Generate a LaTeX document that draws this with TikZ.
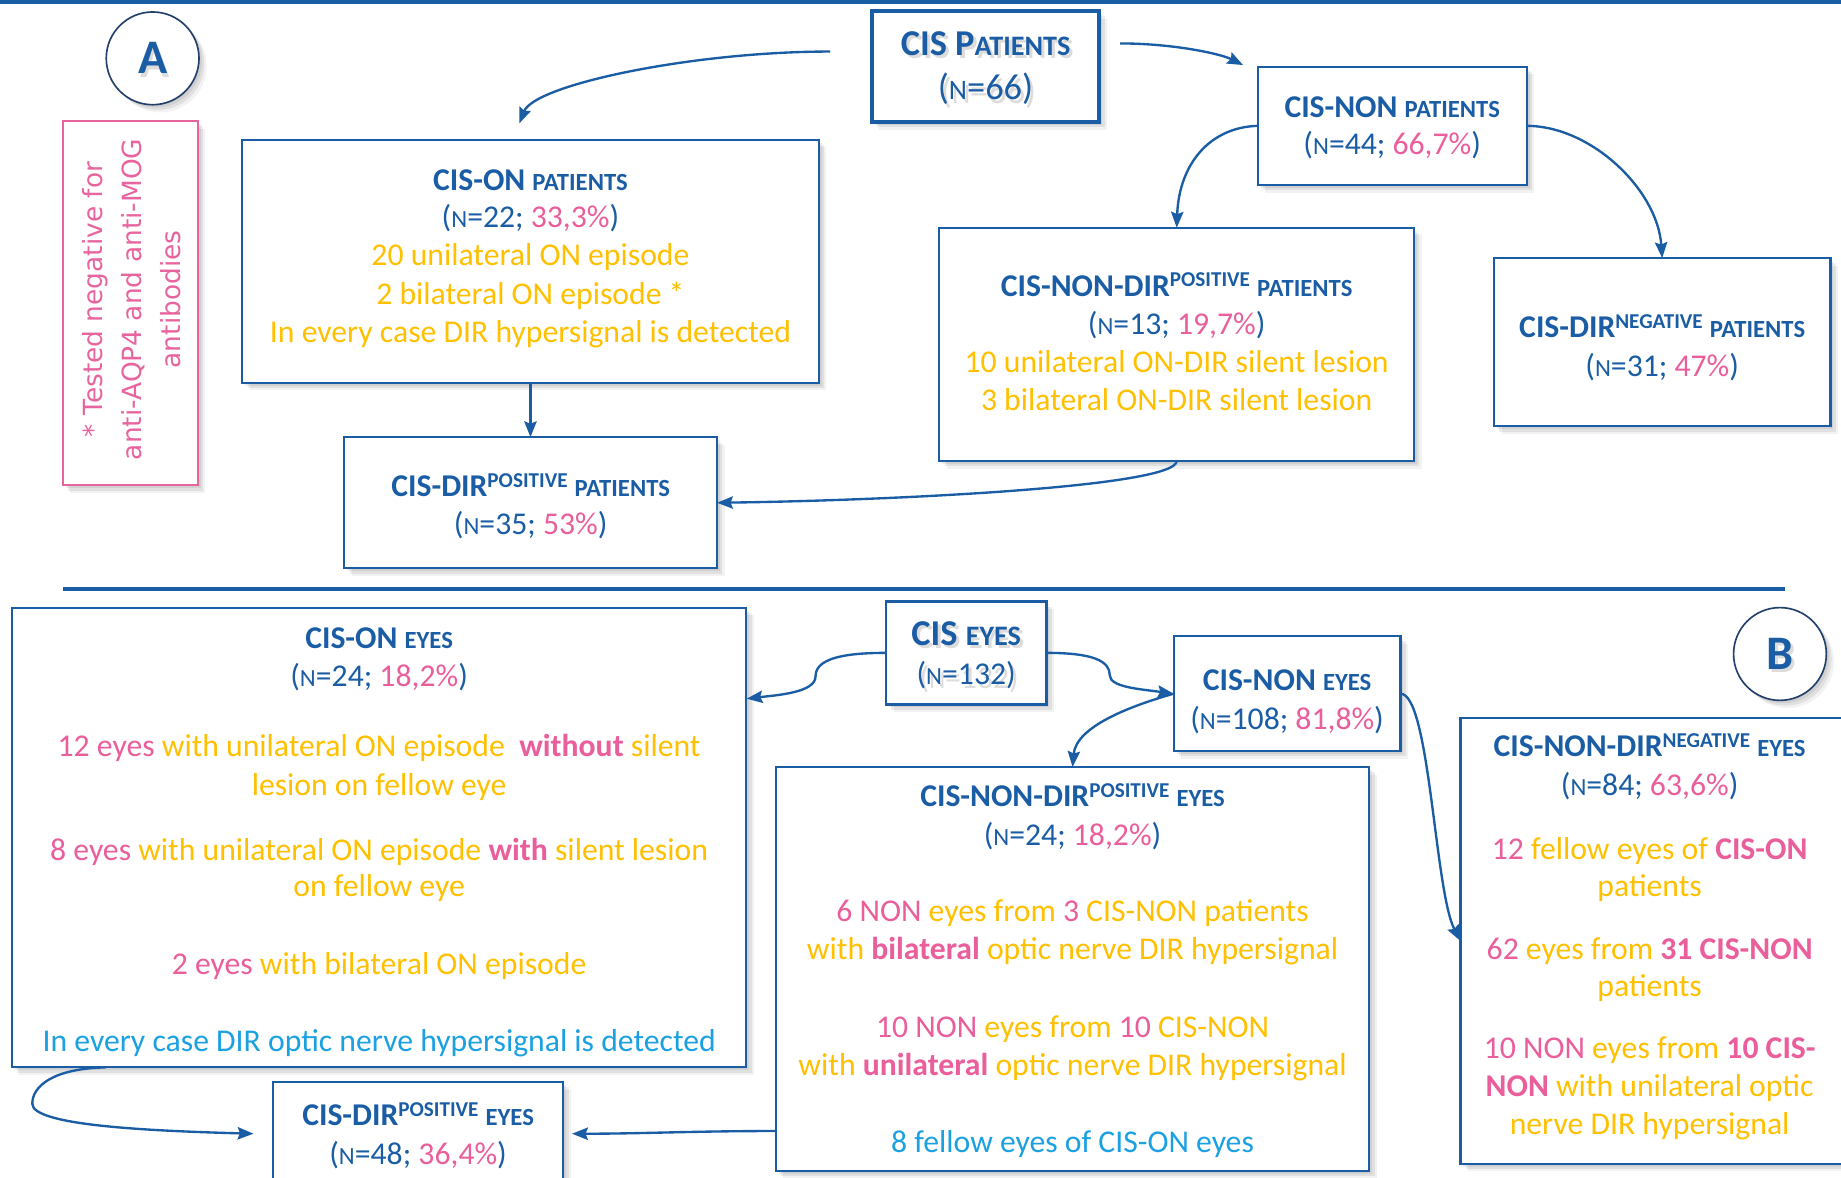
\documentclass[tikz,border=0pt]{standalone}
\usepackage{fontspec}
\setmainfont{Carlito}
\newfontfamily\notefont{DejaVu Sans}
\usetikzlibrary{arrows.meta,shadows,fit,calc}
\definecolor{dblue}{HTML}{1A5DA5}
\definecolor{navyc}{HTML}{23406B}
\definecolor{pinkc}{HTML}{E95E9B}
\definecolor{goldc}{HTML}{FFC000}
\definecolor{lbluec}{HTML}{1BA1E2}
\definecolor{notepink}{HTML}{E8649E}
\newcommand\tpk[1]{\textcolor{pinkc}{#1}}
\newcommand\tgd[1]{\textcolor{goldc}{#1}}
\newcommand\tlb[1]{\textcolor{lbluec}{#1}}
\newcommand\myN{{\fontsize{21}{21}\selectfont N}}
\newcommand\myNb{{\fontsize{24}{24}\selectfont N}}
\newcommand\mttl[2]{\textbf{#1~{\fontsize{21}{21}\selectfont #2}}}
\newcommand\mttlsup[3]{\textbf{#1\raisebox{8pt}{\fontsize{18}{18}\selectfont #2}~{\fontsize{21}{21}\selectfont #3}}}
\tikzset{
  softshadow/.style={
    drop shadow={shadow xshift=2.5pt, shadow yshift=-2.5pt, opacity=0.07, fill=black},
    drop shadow={shadow xshift=4.5pt, shadow yshift=-4.5pt, opacity=0.07, fill=black},
    drop shadow={shadow xshift=6.5pt, shadow yshift=-6.5pt, opacity=0.05, fill=black}},
  box/.style={draw=dblue, line width=1.8pt, fill=white, inner sep=0pt, outer sep=0pt, softshadow},
  t27/.style={anchor=base, inner sep=0pt, text=dblue, font=\fontsize{27}{32.7}\selectfont},
  t31/.style={anchor=base, inner sep=0pt, text=dblue, font=\fontsize{31}{37}\selectfont},
  tshadow/.style={text=black!45, opacity=0.3},
  conn/.style={draw=dblue, line width=2pt, -{Stealth[length=13.5pt,width=10.5pt,inset=2pt]}},
  sepline/.style={draw=dblue, line width=4pt},
  circ/.style={circle, draw=navyc, line width=1.4pt, fill=white, minimum size=79pt, inner sep=0pt, softshadow},
  letter/.style={inner sep=0pt, text=dblue, font=\fontsize{41}{41}\selectfont\bfseries}
}
\begin{document}
\begin{tikzpicture}[x=1pt,y=-1pt]
\useasboundingbox (0,0) rectangle (1568,1003);
\fill[white] (0,0) rectangle (1568,1003);
% separators
\draw[sepline] (0,1.5) -- (1568,1.5);
\draw[sepline] (53.5,501.6) -- (1520.3,501.6);

% ---------- part A ----------
\node[circ] (circA) at (130,49.7) {};
\node[letter, tshadow] (letAs) at (132.5,52.5) {A};
\node[letter] (letA) at (130,49.5) {A};

\node[box, draw=notepink, line width=1.6pt, fit={(53.5,103.2) (168.4,413.4)}] (note) {};
\node[rotate=90, align=center, inner sep=0pt, text=notepink,
  font=\notefont\fontsize{22.5}{33.5}\selectfont] (notetxt) at (112,255)
  {* Tested negative for\\anti-AQP4 and anti-MOG\\antibodies};

\node[box, line width=3.2pt, fit={(742.4,9.4) (936.3,104)}] (cisp) {};
\node[box, fit={(1071.2,56.7) (1300.3,157.7)}] (cisnonp) {};
\node[box, fit={(206.4,118.9) (697.2,326)}] (cisonp) {};
\node[box, fit={(293.3,372.4) (610.7,484)}] (cisdirpp) {};
\node[box, fit={(800.1,193.9) (1204.3,392.6)}] (cisnondirpp) {};
\node[box, fit={(1272.4,219.8) (1559,363.1)}] (cisdirnp) {};

% texts A
\node[t31, tshadow] (cispTs) at (842,50) {\textbf{CIS P{\fontsize{24}{24}\selectfont ATIENTS}}};
\node[t31] (cispT) at (839.4,47) {\textbf{CIS P{\fontsize{24}{24}\selectfont ATIENTS}}};
\node[t31, tshadow] (cispNs) at (842,88) {(\myNb=66)};
\node[t31] (cispN) at (839.4,85) {(\myNb=66)};

\node[t27] (cisnonpT) at (1185.75,100.3) {\mttl{CIS-NON}{PATIENTS}};
\node[t27] (cisnonpN) at (1185.75,131.8) {(\myN=44; \tpk{66,7\%})};

\node[t27] (cisonpT) at (451.8,162.5) {\mttl{CIS-ON}{PATIENTS}};
\node[t27] (cisonpN) at (451.8,194) {(\myN=22; \tpk{33,3\%})};
\node[t27] (cisonp1) at (451.8,226) {\tgd{20 unilateral ON episode}};
\node[t27] (cisonp2) at (451.8,259) {\tgd{2 bilateral ON episode *}};
\node[t27] (cisonp3) at (451.8,291.6) {\tgd{In every case DIR hypersignal is detected}};

\node[t27] (cisdirppT) at (452,423) {\mttlsup{CIS-DIR}{POSITIVE}{PATIENTS}};
\node[t27] (cisdirppN) at (452,455) {(\myN=35; \tpk{53\%})};

\node[t27] (cisnondirppT) at (1002.2,252.2) {\mttlsup{CIS-NON-DIR}{POSITIVE}{PATIENTS}};
\node[t27] (cisnondirppN) at (1002.2,285.2) {(\myN=13; \tpk{19,7\%})};
\node[t27] (cisnondirpp1) at (1002.2,317.3) {\tgd{10 unilateral ON-DIR silent lesion}};
\node[t27] (cisnondirpp2) at (1002.2,349.3) {\tgd{3 bilateral ON-DIR silent lesion}};

\node[t27] (cisdirnpT) at (1415.7,287.5) {\mttlsup{CIS-DIR}{NEGATIVE}{PATIENTS}};
\node[t27] (cisdirnpN) at (1415.7,320.5) {(\myN=31; \tpk{47\%})};

% arrows A
\draw[conn] ($(cisp.west)+(-35.4,-12.8)$) .. controls +(-117,0) and +(13,-33) .. ($(cisonp.north)+(-9.5,-13.8)$);
\draw[conn] ($(cisp.east)+(17.7,-19.7)$) .. controls +(46,0) and +(-18.7,-9.4) .. ($(cisnonp.north west)+(-12.5,-1.3)$);
\draw[conn] (cisnonp.west) .. controls +(-40,1) and +(2,-55) .. (cisnondirpp.north);
\draw[conn] (cisnonp.east) .. controls +(55,0) and +(-4,-58) .. (cisdirnp.north);
\draw[conn] (cisonp.south) -- (cisonp.south |- cisdirpp.north);
\draw[conn] (cisnondirpp.south) .. controls +(0,22) and +(150,-2) .. (cisdirpp.east);

% ---------- part B ----------
\node[circ] (circB) at (1516,557) {};
\node[letter, tshadow] (letBs) at (1518.5,559.8) {B};
\node[letter] (letB) at (1516,556.8) {B};

\node[box, line width=2.4pt, fit={(754.6,512.1) (891.2,600)}] (cise) {};
\node[box, fit={(10,517.5) (635.7,909.1)}] (cisone) {};
\node[box, fit={(999.6,541.8) (1192.8,639.8)}] (cisnone) {};
\node[box, fit={(660.7,653.3) (1166.3,997)}] (cisnondirpe) {};
\node[box, fit={(1243.9,611.7) (1580,991.2)}] (cisnondirne) {};
\node[box, fit={(232.4,921.5) (479.8,1025)}] (cisdirpe) {};

\node[t31, tshadow] (ciseTs) at (825.5,552.4) {\textbf{CIS {\fontsize{24}{24}\selectfont EYES}}};
\node[t31] (ciseT) at (822.9,549.4) {\textbf{CIS {\fontsize{24}{24}\selectfont EYES}}};
\node[t27, tshadow] (ciseNs) at (825.5,586.4) {(\myN=132)};
\node[t27] (ciseN) at (822.9,583.4) {(\myN=132)};

\node[t27] (cisnoneT) at (1096.2,587.7) {\mttl{CIS-NON}{EYES}};
\node[t27] (cisnoneN) at (1096.2,621) {(\myN=108; \tpk{81,8\%})};

\node[t27] (cisoneT) at (322.9,552) {\mttl{CIS-ON}{EYES}};
\node[t27] (cisoneN) at (322.9,584.9) {(\myN=24; \tpk{18,2\%})};
\node[t27] (cisone1) at (322.9,644.6) {\tpk{12 eyes} \tgd{with unilateral ON episode}\ \ \tpk{\textbf{without}} \tgd{silent}};
\node[t27] (cisone2) at (322.9,677.5) {\tgd{lesion on fellow eye}};
\node[t27] (cisone3) at (322.9,732.5) {\tpk{8 eyes} \tgd{with unilateral ON episode} \tpk{\textbf{with}} \tgd{silent lesion}};
\node[t27] (cisone4) at (322.9,763.8) {\tgd{on fellow eye}};
\node[t27] (cisone5) at (322.9,829.9) {\tpk{2 eyes} \tgd{with bilateral ON episode}};
\node[t27] (cisone6) at (322.9,895.4) {\tlb{In every case DIR optic nerve hypersignal is detected}};

\node[t27] (cisnondirpeT) at (913.5,687.1) {\mttlsup{CIS-NON-DIR}{POSITIVE}{EYES}};
\node[t27] (cisnondirpeN) at (913.5,719.7) {(\myN=24; \tpk{18,2\%})};
\node[t27] (cisnondirpe1) at (913.5,785.2) {\tpk{6 NON} \tgd{eyes from} \tpk{3} \tgd{CIS-NON patients}};
\node[t27] (cisnondirpe2) at (913.5,817.1) {\tgd{with} \tpk{\textbf{bilateral}} \tgd{optic nerve DIR hypersignal}};
\node[t27] (cisnondirpe3) at (913.5,883.3) {\tpk{10 NON} \tgd{eyes from} \tpk{10} \tgd{CIS-NON}};
\node[t27] (cisnondirpe4) at (913.5,916.1) {\tgd{with} \tpk{\textbf{unilateral}} \tgd{optic nerve DIR hypersignal}};
\node[t27] (cisnondirpe5) at (913.5,981.6) {\tlb{8 fellow eyes of CIS-ON eyes}};

\node[t27] (cisnondirneT) at (1405,644.6) {\mttlsup{CIS-NON-DIR}{NEGATIVE}{EYES}};
\node[t27] (cisnondirneN) at (1405,677.5) {(\myN=84; \tpk{63,6\%})};
\node[t27] (cisnondirne1) at (1405,731.8) {\tpk{12} \tgd{fellow eyes of} \tpk{\textbf{CIS-ON}}};
\node[t27] (cisnondirne2) at (1405,763.8) {\tgd{patients}};
\node[t27] (cisnondirne3) at (1405,817.1) {\tpk{62} \tgd{eyes from} \tpk{\textbf{31 CIS-NON}}};
\node[t27] (cisnondirne4) at (1405,849.1) {\tgd{patients}};
\node[t27] (cisnondirne5) at (1405,901.2) {\tpk{10 NON} \tgd{eyes from} \tpk{\textbf{10 CIS-}}};
\node[t27] (cisnondirne6) at (1405,934.3) {\tpk{\textbf{NON}} \tgd{with unilateral optic}};
\node[t27] (cisnondirne7) at (1405,966.3) {\tgd{nerve DIR hypersignal}};

\node[t27] (cisdirpeT) at (356.1,958.5) {\mttlsup{CIS-DIR}{POSITIVE}{EYES}};
\node[t27] (cisdirpeN) at (356.1,992) {(\myN=48; \tpk{36,4\%})};

% arrows B
\draw[conn] (cise.west) .. controls +(-40,0) and +(0,-14) .. ($(cise.west)+(-60,20)$)
  .. controls +(0,14) and +(25,-3) .. ($(cisone.north east)+(0.3,77.6)$);
\draw[conn] (cise.east) .. controls +(40,0) and +(0,-12) .. ($(cise.east)+(54,19)$)
  .. controls +(0,10) and +(-30,-4) .. (cisnone.west);
\draw[conn] (cisnone.west) .. controls +(-35,10) and +(3,-35) .. (cisnondirpe.north);
\draw[conn] (cisnone.east) .. controls +(25,0) and +(-22,-42) .. (cisnondirne.west);
\draw[conn] ($(cisone.south west)+(80,0)$) .. controls +(-45,1) and +(0,-15) .. ($(cisone.south west)+(17.5,31)$)
  .. controls +(0,18) and +(-95,-2.6) .. ($(cisdirpe.north west)+(-16.5,44.1)$);
\draw[conn] ($(cisnondirpe.south west)+(0,-33.7)$) .. controls +(-70,0) and +(60,0) .. ($(cisdirpe.north east)+(7.4,44.1)$);
\end{tikzpicture}
\end{document}
